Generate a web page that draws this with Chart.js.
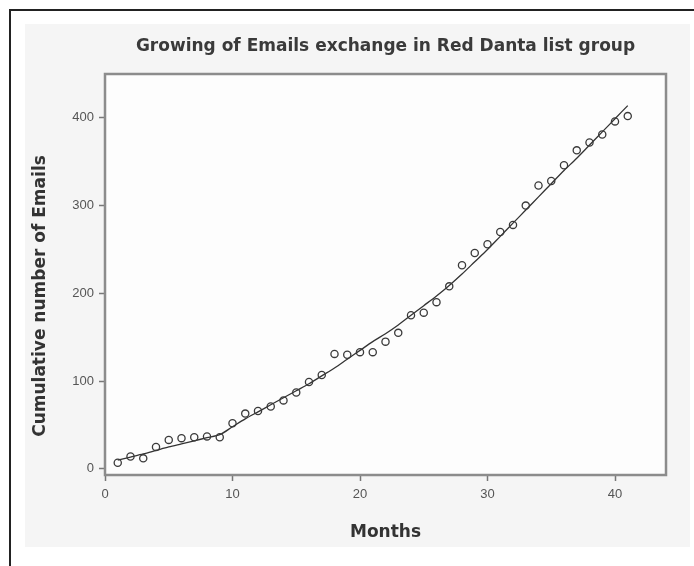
<!DOCTYPE html>
<html>
<head>
<meta charset="utf-8">
<script src="https://cdn.jsdelivr.net/npm/chart.js@4.4.1/dist/chart.umd.min.js"></script>
<style>
  html, body { margin: 0; padding: 0; background: #fff; }
  .wrap { position: relative; width: 694px; height: 566px; overflow: hidden; }
  .frame { position: absolute; left: 9px; top: 9px; width: 700px; height: 600px;
           border-left: 2px solid #222; border-top: 2px solid #222; }
  .panel { position: absolute; left: 25px; top: 24px; width: 665px; height: 523px; background: #f5f5f5; }
  canvas { position: absolute; left: 0; top: 0; }
</style>
</head>
<body>
<div class="wrap">
  <div class="frame"></div>
  <div class="panel"></div>
  <canvas id="emailChart" width="694" height="566"></canvas>
</div>
<script>
// observed monthly cumulative emails
const months = [1, 2, 3, 4, 5, 6, 7, 8, 9, 10, 11, 12, 13, 14, 15, 16, 17, 18, 19, 20, 21,
  22, 23, 24, 25, 26, 27, 28, 29, 30, 31, 32, 33, 34, 35, 36, 37, 38, 39, 40, 41];
const emails = [7, 14, 12, 25, 33, 35, 36, 37, 36, 52, 63, 66, 71, 78, 87, 99, 107, 131, 130, 133, 133,
  145, 155, 175, 178, 190, 208, 232, 246, 256, 270, 278, 300, 323, 328, 346, 363, 372, 381, 396, 402];

// fitted trend line
const fitMonths = months;
const fitValues = [10, 13.5, 17, 21, 25, 28.5, 32, 35.5, 39, 48, 57, 65, 73, 81, 89, 97, 106, 115, 125, 135, 145,
  154, 164, 175, 186, 197, 209, 222, 236, 250, 265, 280, 295, 310, 325, 340, 354, 369, 384, 399, 414];

const xTicks = [0, 10, 20, 30, 40];
const yTicks = [0, 100, 200, 300, 400];

const titleText = 'Growing of Emails exchange in Red Danta list group';
const xTitle = 'Months';
const yTitle = 'Cumulative number of Emails';

const wideFont = "'DejaVu Sans', Verdana, sans-serif";
const tickFont = "'Liberation Sans', Arial, sans-serif";

// plot area fill + grey frame + rotated y title
const plotFrame = {
  id: 'plotFrame',
  beforeDraw(chart) {
    const { ctx, chartArea: a } = chart;
    ctx.save();
    ctx.fillStyle = '#fdfdfd';
    ctx.fillRect(a.left, a.top, a.right - a.left, a.bottom - a.top);
    ctx.restore();
  },
  afterDraw(chart) {
    const { ctx, chartArea: a } = chart;
    ctx.save();
    ctx.strokeStyle = '#8c8c8c';
    ctx.lineWidth = 2.5;
    ctx.strokeRect(a.left, a.top, a.right - a.left, a.bottom - a.top);
    // y axis title
    ctx.translate(41, 296);
    ctx.rotate(-Math.PI / 2);
    ctx.font = "bold 17px " + wideFont;
    ctx.fillStyle = '#333';
    ctx.textAlign = 'center';
    ctx.textBaseline = 'middle';
    ctx.fillText(yTitle, 0, 0);
    ctx.restore();
  }
};

const ctx = document.getElementById('emailChart').getContext('2d');

new Chart(ctx, {
  type: 'scatter',
  data: {
    datasets: [
      {
        label: 'Observed',
        data: months.map((m, i) => ({ x: m, y: emails[i] })),
        pointStyle: 'circle',
        pointRadius: 3.6,
        pointBorderWidth: 1.3,
        borderColor: '#3a3a3a',
        backgroundColor: 'rgba(0,0,0,0)',
        showLine: false
      },
      {
        label: 'Fit',
        data: fitMonths.map((m, i) => ({ x: m, y: fitValues[i] })),
        showLine: true,
        pointRadius: 0,
        borderColor: '#333',
        borderWidth: 1.3,
        tension: 0.3
      }
    ]
  },
  options: {
    responsive: false,
    animation: false,
    layout: { padding: { left: 0, right: 28, top: 0, bottom: 20 } },
    plugins: {
      legend: { display: false },
      tooltip: { enabled: false },
      title: {
        display: true,
        text: titleText,
        fullSize: false,
        color: '#3a3a3a',
        font: { family: wideFont, size: 17, weight: 'bold', lineHeight: 1.2 },
        padding: { top: 36, bottom: 17.6 }
      }
    },
    scales: {
      x: {
        type: 'linear',
        min: 0,
        max: 44,
        afterBuildTicks: (s) => { s.ticks = xTicks.map(v => ({ value: v })); },
        afterFit: (s) => { s.height = 71; },
        grid: { display: true, drawOnChartArea: false, tickLength: 6, tickColor: '#777', tickWidth: 1.5 },
        border: { display: false },
        ticks: { color: '#555', font: { family: tickFont, size: 13 }, padding: 6, maxRotation: 0 },
        title: {
          display: true,
          text: xTitle,
          color: '#333',
          font: { family: wideFont, size: 17, weight: 'bold', lineHeight: 1.2 },
          padding: { top: 0, bottom: 3 }
        }
      },
      y: {
        type: 'linear',
        min: -7,
        max: 450,
        afterBuildTicks: (s) => { s.ticks = yTicks.map(v => ({ value: v })); },
        afterFit: (s) => { s.width = 105; },
        grid: { display: true, drawOnChartArea: false, tickLength: 6, tickColor: '#777', tickWidth: 1.5 },
        border: { display: false },
        ticks: { color: '#555', font: { family: tickFont, size: 13 }, padding: 5 }
      }
    }
  },
  plugins: [plotFrame]
});
</script>
</body>
</html>
